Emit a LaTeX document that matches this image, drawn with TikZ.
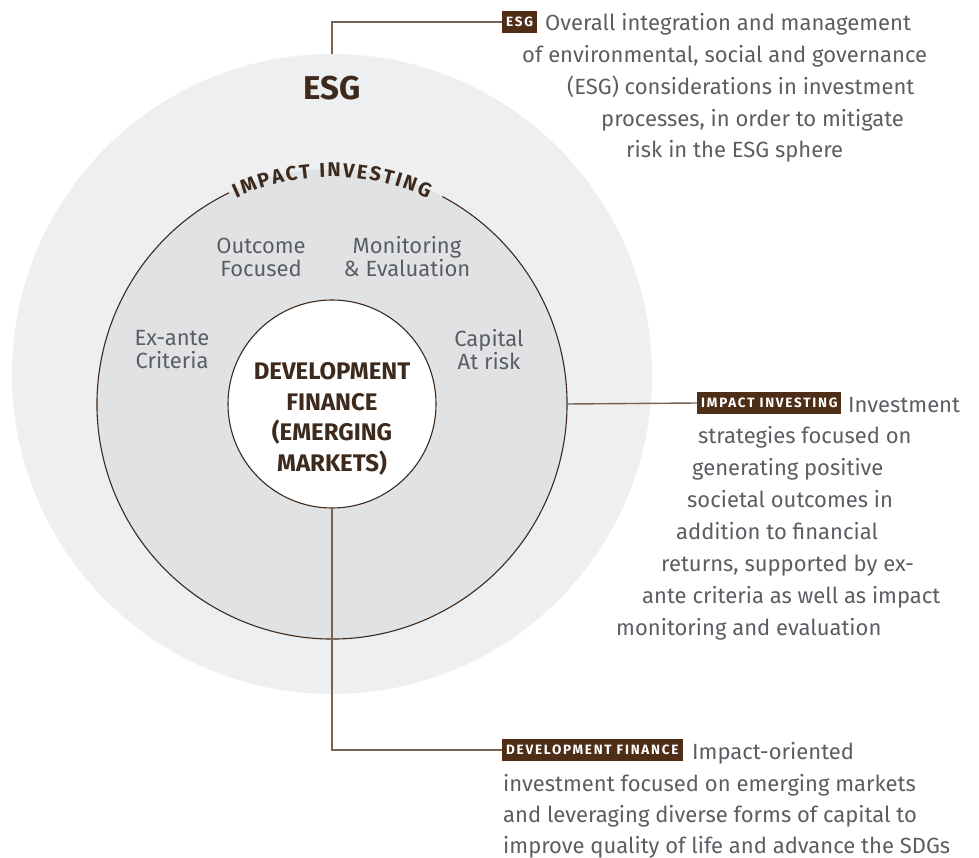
\documentclass[tikz,border=0pt]{standalone}
\usepackage{fontspec}
\setmainfont{Fira Sans}
\newfontfamily\tagfont{Fira Sans}[LetterSpace=13]
\usetikzlibrary{decorations.text}

\definecolor{outerfill}{HTML}{EEEFF0}
\definecolor{midfill}{HTML}{E1E2E4}
\definecolor{ink}{HTML}{3E2A1C}
\definecolor{tagfill}{HTML}{4E2E17}
\definecolor{connline}{HTML}{7A6250}
\definecolor{bodygray}{HTML}{5A5E63}

\begin{document}
\begin{tikzpicture}[x=1pt,y=-1pt,
  ring/.style={circle, inner sep=0pt, outer sep=0pt},
  tagbox/.style={fill=tagfill, text=white, anchor=west,
    font=\tagfont\bfseries\fontsize{13.5}{13.5}\selectfont,
    inner xsep=4pt, inner ysep=0pt, minimum height=22pt},
  body/.style={text=bodygray, font=\fontsize{22}{22}\selectfont,
    inner sep=0pt, anchor=base west},
  feature/.style={text=bodygray, font=\fontsize{22}{23}\selectfont,
    align=center, inner sep=0pt},
  conn/.style={draw=connline, line width=1.4pt},
]
\useasboundingbox (0,0) rectangle (979,858);

% nested circles
\node[ring, fill=outerfill, minimum size=640pt] (outer) at (332,374) {};
\node[ring, fill=midfill, minimum size=470pt] (mid) at (332,404) {};
\draw[ink, line width=1.1pt] (mid.center) ++(-116:235)
  arc[start angle=-116, end angle=-422, radius=235];
\node[ring, fill=white, draw=ink, line width=1.1pt, minimum size=208pt] (core) at (332,404) {};

% ring titles
\node[text=ink, font=\bfseries\fontsize{33}{33}\selectfont] (esglabel) at (332,88) {ESG};
\path[decorate, decoration={text along path, text align=center, text color=ink,
    text={|\bfseries\fontsize{20}{20}\selectfont|{I\kern2pt}{M\kern2pt}{P\kern2pt}{A\kern2pt}{C\kern2pt}{T\kern2pt}{\ \kern2pt}{I\kern2pt}{N\kern2pt}{V\kern2pt}{E\kern2pt}{S\kern2pt}{T\kern2pt}{I\kern2pt}{N\kern2pt}{G}}}]
  (mid.center) ++(-155:227) arc[start angle=-155, end angle=-25, radius=227];
\node[text=ink, font=\bfseries\fontsize{24}{30.5}\selectfont, align=center, inner sep=0pt]
  (coretext) at (332,419) {DEVELOPMENT\\FINANCE\\(EMERGING\\MARKETS)};

% features of impact investing
\node[feature] (outcome) at (261,257) {Outcome\\Focused};
\node[feature] (monitor) at (407,257) {Monitoring\\\& Evaluation};
\node[feature] (exante) at (172,350) {Ex-ante\\Criteria};
\node[feature] (capital) at (489,350) {Capital\\At risk};

% tags
\node[tagbox] (esgtag) at (502,22) {ESG};
\node[tagbox] (imptag) at (697,403) {IMPACT INVESTING};
\node[tagbox] (devtag) at (502,750) {DEVELOPMENT FINANCE};

% connectors
\draw[conn] (outer.north) |- (esgtag.west);
\draw[conn] (mid.east) -- (imptag.west);
\draw[conn] (core.south) |- (devtag.west);

% ESG description
\node[body] (esg1) at (545,31) {Overall integration and management};
\node[body] (esg2) at (522,63) {of environmental, social and governance};
\node[body] (esg3) at (567,95) {(ESG) considerations in investment};
\node[body] (esg4) at (601,127) {processes, in order to mitigate};
\node[body] (esg5) at (626,158) {risk in the ESG sphere};

% impact investing description
\node[body] (imp1) at (848,412) {Investment};
\node[body] (imp2) at (698,443) {strategies focused on};
\node[body] (imp3) at (692,475) {generating positive};
\node[body] (imp4) at (687,507) {societal outcomes in};
\node[body] (imp5) at (676,539) {addition to financial};
\node[body] (imp6) at (661,571) {returns, supported by ex-};
\node[body] (imp7) at (642,603) {ante criteria as well as impact};
\node[body] (imp8) at (616,635) {monitoring and evaluation};

% development finance description
\node[body] (dev1) at (692,759) {Impact-oriented};
\node[body] (dev2) at (503,791) {investment focused on emerging markets};
\node[body] (dev3) at (503,822) {and leveraging diverse forms of capital to};
\node[body] (dev4) at (503,853) {improve quality of life and advance the SDGs};
\end{tikzpicture}
\end{document}
